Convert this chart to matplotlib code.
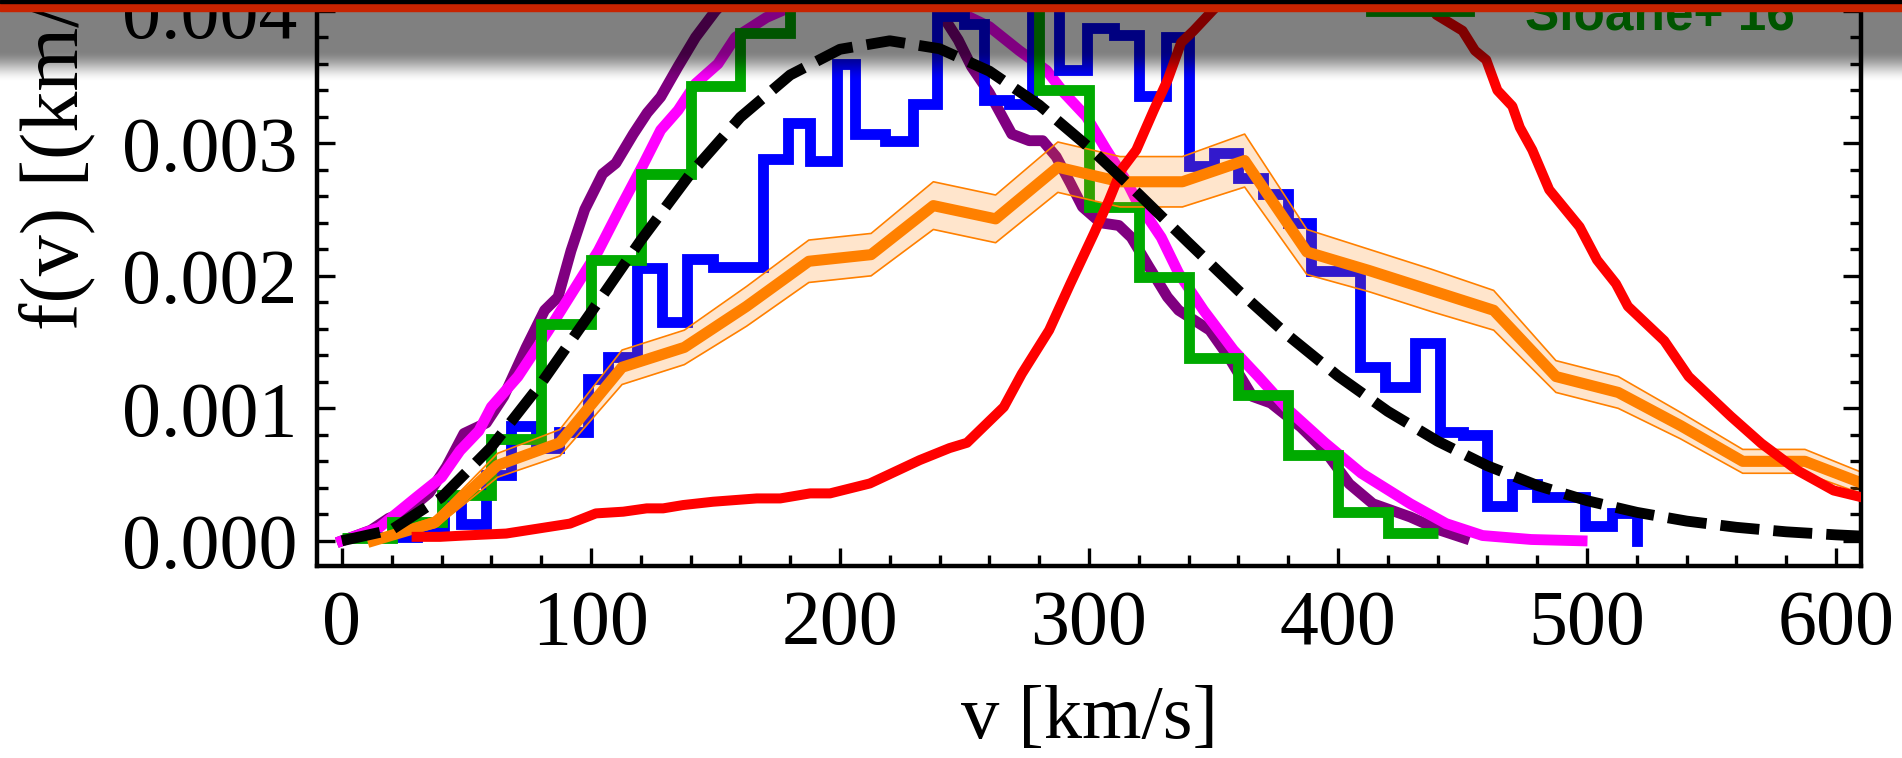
import numpy as np
import matplotlib
matplotlib.use("Agg")
import matplotlib.pyplot as plt
from matplotlib.patches import Rectangle
from matplotlib.ticker import MultipleLocator, FormatStrFormatter

# --- data (v in km/s, f in (km/s)^-1) ---

# standard halo model (black dashed)
shm_v = [0, 20, 40, 60, 80, 100, 120, 140, 160, 180, 200, 220, 240, 260, 280, 300,
         320, 340, 360, 380, 400, 420, 440, 460, 480, 500, 520, 540, 560, 580, 600, 610]
shm_f = [0.0, 0.000084, 0.000328, 0.000708, 0.001188, 0.001724, 0.002267, 0.002771,
         0.003197, 0.003516, 0.003710, 0.003774, 0.003714, 0.003545, 0.003289, 0.002970,
         0.002616, 0.002249, 0.001888, 0.001549, 0.001244, 0.000977, 0.000752, 0.000566,
         0.000418, 0.000303, 0.000215, 0.000149, 0.000102, 0.000068, 0.000045, 0.000036]

# purple simulation curve
purple_v = [0, 11.6, 18.8, 26, 35, 42, 49, 58, 65, 74, 81.4, 86.8, 92, 97.5, 104.7, 110,
            117, 122.6, 128, 135, 142, 150, 165, 185, 205, 225, 240, 247.5, 252.8, 260,
            269, 276, 281.4, 286.8, 292.5, 297.4, 304.7, 312, 317, 324, 331.5, 336, 348.5,
            356, 365.6, 373, 385, 394.7, 404.5, 414, 429, 441, 450.7]
purple_f = [0.0, 0.00008, 0.00017, 0.00022, 0.00036, 0.00056, 0.00081, 0.00089, 0.00109,
            0.00146, 0.00174, 0.00184, 0.00219, 0.0025, 0.00277, 0.00285, 0.00307, 0.00323,
            0.00335, 0.00358, 0.0038, 0.004, 0.0043, 0.0046, 0.0047, 0.0045, 0.004, 0.00378,
            0.00358, 0.00338, 0.00307, 0.00302, 0.00302, 0.0029, 0.0027, 0.00252, 0.0024,
            0.00238, 0.00229, 0.00207, 0.00184, 0.00174, 0.00159, 0.00139, 0.00109, 0.00104,
            0.00086, 0.00068, 0.00043, 0.00028, 0.00018, 0.00008, 0.00002]

# magenta simulation curve
magenta_v = [0, 15, 30, 40, 47.4, 55, 60, 70.7, 83, 94, 103, 112, 121, 128, 135, 142, 151,
             158, 170.5, 179, 200, 220, 240, 249, 260, 272, 283, 290, 299, 307, 315.5, 319,
             329, 336, 346, 358, 368, 380, 394.7, 409.4, 429, 443.4, 458, 477.6, 498]
magenta_f = [0.0, 0.0001, 0.00033, 0.00048, 0.00068, 0.00083, 0.00101, 0.00124, 0.00159,
             0.00192, 0.00219, 0.00252, 0.00284, 0.0031, 0.00325, 0.00345, 0.0036, 0.0038,
             0.00395, 0.00402, 0.0042, 0.0043, 0.0041, 0.00398, 0.00388, 0.0037, 0.00355,
             0.00338, 0.0032, 0.00295, 0.0027, 0.00257, 0.00229, 0.00202, 0.00174, 0.00144,
             0.00124, 0.00099, 0.00074, 0.00051, 0.00028, 0.00013, 0.00004, 0.00001, 0.0]

# red simulation curve
red_v = [30, 39.4, 49, 66, 91.6, 102, 113, 122.4, 129, 137, 149, 166.6, 176, 188, 196,
         212, 232, 244, 251, 265.8, 273, 284, 292.5, 302, 308, 313, 319, 326, 331.6, 337,
         342, 349.5, 365, 385, 405, 425, 439.5, 450, 455, 459.5, 464, 470, 473, 478,
         484.8, 497, 504, 511.6, 516.4, 531, 540.8, 557.7, 570, 584.6, 599, 610]
red_f = [0.00003, 0.00003, 0.00004, 0.000055, 0.00013, 0.000207, 0.00022, 0.000245,
         0.000245, 0.00027, 0.000295, 0.00032, 0.00032, 0.000358, 0.000358, 0.000433,
         0.000609, 0.0007, 0.00074, 0.00101, 0.00126, 0.00159, 0.00194, 0.00232, 0.00257,
         0.0028, 0.00295, 0.00325, 0.00348, 0.00376, 0.00385, 0.004, 0.0043, 0.0046,
         0.0047, 0.0044, 0.00397, 0.00385, 0.0037, 0.00363, 0.0034, 0.00328, 0.00312,
         0.00295, 0.00265, 0.00237, 0.00212, 0.00194, 0.00177, 0.00151, 0.00124, 0.00094,
         0.000735, 0.00053, 0.00038, 0.00033]

# blue histogram (irregular bins)
blue_edges = [16, 30, 41, 48, 58, 68, 78, 87, 99, 107, 118.5, 128.6, 138.5, 149, 159, 169,
              179, 188, 199, 206, 218, 229.5, 239, 250, 258, 268, 277, 288, 299, 310, 320,
              331, 340, 350, 360, 370, 380, 389, 409, 419, 431, 441, 450, 460, 470, 480,
              499, 510, 520]
blue_f = [0.00003, 0.00009, 0.00031, 0.00013, 0.0005, 0.00087, 0.0007, 0.00082, 0.00122,
          0.00139, 0.00206, 0.00165, 0.00213, 0.00207, 0.00207, 0.00288, 0.00315, 0.00287,
          0.0036, 0.00307, 0.00302, 0.0033, 0.00396, 0.0039, 0.00333, 0.0033, 0.0042,
          0.00355, 0.00387, 0.00382, 0.00336, 0.0038, 0.00283, 0.00293, 0.00274, 0.00262,
          0.0024, 0.00204, 0.00131, 0.00116, 0.00149, 0.00082, 0.0008, 0.00026, 0.00043,
          0.00033, 0.00011, 0.00021]

# green histogram, Sloane+ 16 (20 km/s bins)
green_edges = list(range(0, 441, 20))
green_f = [0.00002, 0.00014, 0.000345, 0.00077, 0.00164, 0.00212, 0.00277, 0.00343,
           0.00383, 0.0042, 0.0044, 0.0045, 0.0044, 0.0042, 0.0034, 0.00252, 0.00199,
           0.00138, 0.0011, 0.00065, 0.00022, 0.00006]

# orange curve with error band
orange_v = [12.5, 37.5, 62.5, 87.5, 112.5, 137.5, 162.5, 187.5, 212.5, 237.5, 262.5,
            287.5, 312.5, 337.5, 362.5, 387.5, 412.5, 437.5, 462.5, 487.5, 512.5, 537.5,
            562.5, 587.5, 612.5]
orange_f = [0.0, 0.00014, 0.00057, 0.00074, 0.00131, 0.00146, 0.00177, 0.00211, 0.00216,
            0.00253, 0.00243, 0.00282, 0.00271, 0.00271, 0.00287, 0.00218, 0.00204,
            0.00189, 0.00174, 0.00124, 0.00112, 0.00087, 0.0006, 0.0006, 0.00042]
orange_err = [0.00002, 0.00004, 0.00009, 0.0001, 0.00013, 0.00013, 0.00015, 0.00016,
              0.00016, 0.00018, 0.00018, 0.00019, 0.00019, 0.00019, 0.0002, 0.00017,
              0.00016, 0.00016, 0.00015, 0.00012, 0.00012, 0.0001, 0.00009, 0.00009,
              0.00008]

# --- figure ---
W, H = 1902, 758
fig = plt.figure(figsize=(W / 100, H / 100), dpi=100)
fig.patch.set_facecolor("white")

serif = ["Liberation Serif", "DejaVu Serif"]
ax = fig.add_axes([317 / W, 192 / H, 1544 / W, 621.4 / H])
ax.set_xlim(-10, 610)
ax.set_ylim(-0.00019, 0.0045)

lw = 7.8
ax.plot(purple_v, purple_f, color="#800080", lw=lw, zorder=2)
ax.plot(magenta_v, magenta_f, color="#FF00FF", lw=lw, zorder=2.1)
ax.step(blue_edges, blue_f + [0.0], where="post", color="#0000FF", lw=lw, zorder=2.2,
        solid_joinstyle="miter")
ax.stairs(green_f, green_edges, baseline=None, color="#00AA00", lw=lw, zorder=2.3)

o = np.array(orange_f)
e = np.array(orange_err)
ax.fill_between(orange_v, o - e, o + e, color="#FF8000", alpha=0.2, lw=0, zorder=2.4)
ax.plot(orange_v, o + e, color="#FF8000", lw=1.2, zorder=2.41)
ax.plot(orange_v, o - e, color="#FF8000", lw=1.2, zorder=2.41)
ax.plot(orange_v, orange_f, color="#FF8000", lw=8, zorder=2.5)
ax.plot(red_v, red_f, color="#FF0000", lw=7.2, zorder=2.6)
dash, = ax.plot(shm_v, shm_f, color="black", lw=7.8, zorder=2.7, dash_capstyle="butt")
dash.set_dashes([3.6, 1.3])

# legend entry peeking in at the top
ax.plot([1371, 1469], [H - 10.5, H - 10.5], transform=None, color="#00AA00", lw=lw,
        clip_on=False, zorder=3)
fig.text(1525 / W, (H - 30) / H, "Sloane+ 16", color="#00AA00", fontsize=37,
         fontweight="bold", family=["Liberation Sans", "DejaVu Sans"], va="baseline")

# axes frame and ticks
for s in ax.spines.values():
    s.set_linewidth(3.2)
ax.xaxis.set_major_locator(MultipleLocator(100))
ax.xaxis.set_minor_locator(MultipleLocator(20))
ax.yaxis.set_major_locator(MultipleLocator(0.001))
ax.yaxis.set_minor_locator(MultipleLocator(0.0002))
ax.yaxis.set_major_formatter(FormatStrFormatter("%.3f"))
ax.tick_params(which="both", direction="in", top=True, right=True, width=2.4)
ax.tick_params(which="major", length=13)
ax.tick_params(which="minor", length=8)
ax.tick_params(axis="y", pad=14)
ax.tick_params(axis="x", pad=17)
for lab in ax.get_xticklabels() + ax.get_yticklabels():
    lab.set_family(serif)
    lab.set_fontsize(56)

fig.text(1089 / W, (H - 738) / H, "v [km/s]", family=serif, fontsize=55,
         ha="center", va="baseline")
fig.text(57 / W, (H - 330) / H, "f(v) [(km/s)\u207b\u00b9]", family=serif, fontsize=59,
         rotation=90, ha="center", va="bottom")

# dark fade at the top edge, red and black bars above it
rows = np.arange(90)
t = np.clip((rows - 50) / 32.0, 0, 1)
alpha = 0.5 * (1 - (3 * t ** 2 - 2 * t ** 3))
grad = np.zeros((90, 1, 4))
grad[:, 0, 3] = alpha
ov = fig.add_axes([0, (H - 90) / H, 1, 90 / H], zorder=10)
ov.imshow(grad, aspect="auto", extent=(0, 1, 1, 0), interpolation="bilinear")
ov.set_xlim(0, 1)
ov.set_ylim(1, 0)
ov.axis("off")
fig.patches.append(Rectangle((0, (H - 11) / H), 1, 8.3 / H, transform=fig.transFigure,
                             color="#C82300", zorder=11))
fig.patches.append(Rectangle((0, (H - 2.7) / H), 1, 2.7 / H, transform=fig.transFigure,
                             color="black", zorder=12))

fig.savefig("out.png", dpi=100)
